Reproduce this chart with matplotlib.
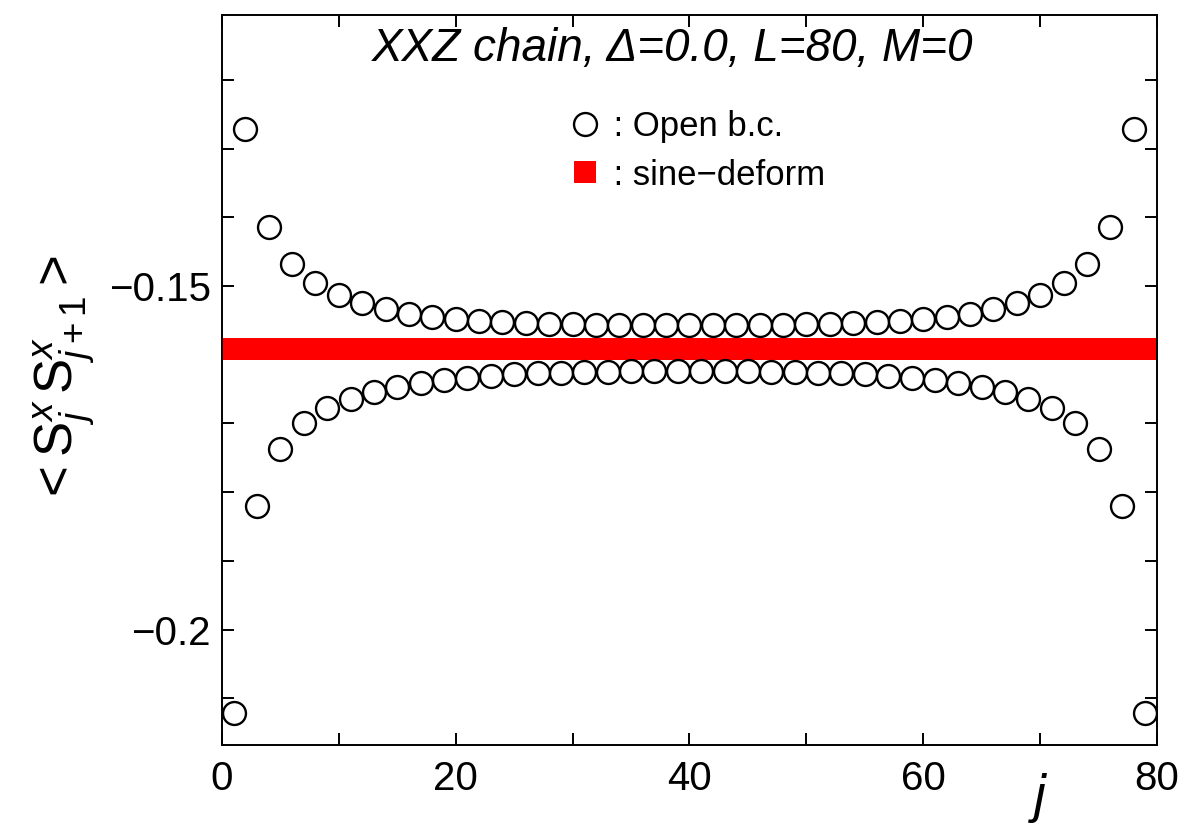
import numpy as np
import matplotlib
matplotlib.use("Agg")
import matplotlib.pyplot as plt
from matplotlib.ticker import FixedLocator, MultipleLocator

plt.rcParams["font.family"] = ["Liberation Sans", "DejaVu Sans"]
plt.rcParams["mathtext.fontset"] = "custom"
plt.rcParams["mathtext.rm"] = "Liberation Sans"
plt.rcParams["mathtext.it"] = "Liberation Sans:italic"

# bond index j = 1..79
j = np.arange(1, 80)

# Open b.c. <S^x_j S^x_j+1>
open_bc = [
    -0.2122, -0.1272, -0.1820, -0.1414, -0.1737, -0.1468, -0.1699, -0.1495,
    -0.1677, -0.1513, -0.1664, -0.1525, -0.1654, -0.1534, -0.1647, -0.1540,
    -0.1641, -0.1545, -0.1637, -0.1548, -0.1634, -0.1551, -0.1631, -0.1553,
    -0.1628, -0.1554, -0.1627, -0.1555, -0.1626, -0.1555, -0.1625, -0.1556,
    -0.1625, -0.1556, -0.1624, -0.1556, -0.1624, -0.1556, -0.1624, -0.1556,
    -0.1624, -0.1556, -0.1624, -0.1556, -0.1624, -0.1556, -0.1625, -0.1556,
    -0.1625, -0.1555, -0.1626, -0.1555, -0.1627, -0.1554, -0.1628, -0.1553,
    -0.1631, -0.1551, -0.1634, -0.1548, -0.1637, -0.1545, -0.1641, -0.1540,
    -0.1647, -0.1534, -0.1654, -0.1525, -0.1664, -0.1513, -0.1677, -0.1495,
    -0.1699, -0.1468, -0.1737, -0.1414, -0.1820, -0.1272, -0.2122,
]

# sine-deformed chain: uniform
sine_deform = [-0.1592] * 79

fig = plt.figure(figsize=(11.85, 8.26), dpi=100)
ax = fig.add_axes([0.1873, 0.0981, 0.7891, 0.8837])

ax.plot(j, sine_deform, "s", color="#ff0000", ms=15.5, mec="#ff0000", mew=0,
        label=" : sine\u2212deform", zorder=2)
ax.plot(j, open_bc, "o", mfc="white", mec="black", ms=16.5, mew=1.7,
        label=" : Open b.c.", zorder=3)

ax.set_xlim(0, 80)
ax.set_ylim(-0.2168, -0.11055)

ax.xaxis.set_major_locator(MultipleLocator(20))
ax.xaxis.set_minor_locator(MultipleLocator(10))
ax.yaxis.set_major_locator(FixedLocator([-0.2, -0.15]))
ax.yaxis.set_minor_locator(MultipleLocator(0.01))
ax.set_yticklabels(["\u22120.2", "\u22120.15"])

ax.tick_params(which="both", direction="in", top=True, right=True,
               length=8.6, width=1.4, labelsize=29)
ax.tick_params(axis="x", pad=11)
ax.tick_params(axis="y", pad=8)
for s in ax.spines.values():
    s.set_linewidth(1.4)

ax.set_ylabel(r"$\mathrm{<S}^{x}_{\mathit{j}}\,\mathrm{S}^{x}_{\mathit{j+1}}\mathrm{>}$",
              fontsize=38, labelpad=8)
ax.text(0.875, -0.072, "j", style="italic", fontsize=38,
        ha="center", va="center", transform=ax.transAxes)

ax.text(0.482, 0.954, "XXZ chain, \u0394=0.0, L=80, M=0", style="italic",
        fontsize=33, ha="center", va="center", transform=ax.transAxes)

h, l = ax.get_legend_handles_labels()
ax.legend(h[::-1], l[::-1], loc="upper left", bbox_to_anchor=(0.371, 0.870),
          frameon=False, fontsize=25, handlelength=0.95, handletextpad=0.05,
          borderpad=0, borderaxespad=0, labelspacing=0.45, numpoints=1)

fig.savefig("out.png", dpi=100)
